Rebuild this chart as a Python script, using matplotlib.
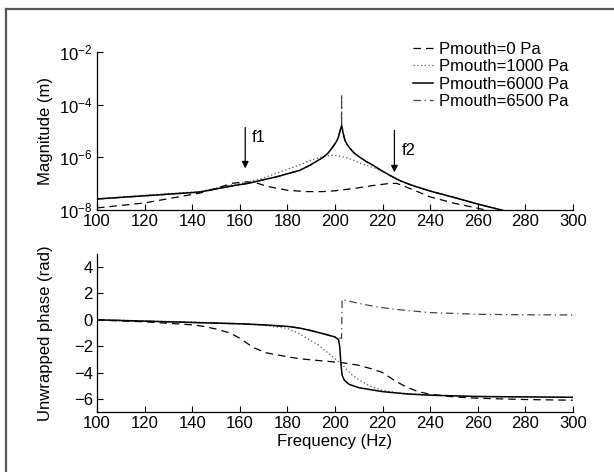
import matplotlib
matplotlib.use('Agg')
from matplotlib import pyplot as plt
from matplotlib.lines import Line2D
import numpy as np

plt.rcParams['font.family'] = ['Liberation Sans', 'DejaVu Sans']
plt.rcParams['mathtext.fontset'] = 'custom'
plt.rcParams['mathtext.rm'] = 'Liberation Sans'
plt.rcParams['font.size'] = 12

labels = ["Pmouth=0 Pa", "Pmouth=1000 Pa", "Pmouth=6000 Pa", "Pmouth=6500 Pa"]

# magnitude, log10(m)
f_mag0 = [100, 120, 143, 150, 157, 163, 167, 171.4, 180, 188, 195, 200, 209, 216, 223, 226, 232, 240,
          250, 260, 270, 280, 300]
mag0 = [-7.92, -7.73, -7.36, -7.18, -6.98, -6.93, -6.97, -7.1, -7.25, -7.3, -7.3, -7.27, -7.17, -7.07,
        -6.99, -6.99, -7.2, -7.5, -7.74, -7.93, -8.15, -8.4, -8.8]

f_mag1 = [100, 120, 143, 157, 164, 170, 175, 181, 185, 189.5, 195, 199, 202, 206, 210.5, 213, 216, 220,
          223, 227, 232, 240, 250, 260, 270, 280, 300]
mag1 = [-7.58, -7.44, -7.3, -7.04, -6.92, -6.78, -6.62, -6.42, -6.3, -6.12, -5.97, -5.92, -5.95, -6.04,
        -6.22, -6.3, -6.38, -6.52, -6.68, -6.87, -7.05, -7.28, -7.52, -7.77, -8.0, -8.25, -8.7]

f_mag2 = [100, 120, 143, 150, 157, 164, 170, 175, 181, 185, 189.5, 195, 197, 199, 200.5, 201.3, 202,
          202.8, 203.5, 204.2, 205.2, 206.3, 208, 210.5, 213, 216, 219.5, 223, 227, 232, 240, 250, 260,
          270, 280, 300]
mag2 = [-7.58, -7.46, -7.32, -7.2, -7.08, -6.98, -6.85, -6.75, -6.6, -6.5, -6.3, -6.0, -5.85, -5.62,
        -5.42, -5.28, -5.05, -4.79, -5.1, -5.36, -5.52, -5.66, -5.83, -6.0, -6.15, -6.3, -6.5, -6.68,
        -6.87, -7.05, -7.28, -7.52, -7.77, -8.0, -8.25, -8.7]

f_mag3 = [100, 120, 143, 150, 157, 164, 170, 175, 181, 185, 189.5, 195, 197, 199, 200.5, 201.3, 202,
          202.75, 202.8, 202.85, 203.5, 204.2, 205.2, 206.3, 208, 210.5, 213, 216, 219.5, 223, 227, 232,
          240, 250, 260, 270, 280, 300]
mag3 = [-7.58, -7.46, -7.32, -7.2, -7.08, -6.98, -6.85, -6.75, -6.6, -6.5, -6.3, -6.0, -5.85, -5.62,
        -5.42, -5.28, -5.05, -4.8, -3.6, -4.8, -5.1, -5.36, -5.52, -5.66, -5.83, -6.0, -6.15, -6.3, -6.5,
        -6.68, -6.87, -7.05, -7.28, -7.52, -7.77, -8.0, -8.25, -8.7]

# unwrapped phase, rad
f_ph0 = [100, 120, 140, 145, 150, 156, 160, 165.7, 171, 180, 185, 193.7, 203, 210, 215, 220, 225, 230,
         235, 240, 250, 260, 280, 300]
ph0 = [-0.02, -0.15, -0.38, -0.5, -0.7, -1.0, -1.4, -2.1, -2.5, -2.8, -2.95, -3.1, -3.25, -3.45, -3.7,
       -4.0, -4.6, -5.1, -5.45, -5.65, -5.85, -5.95, -6.05, -6.1]

f_ph1 = [100, 120, 140, 160, 170, 180, 185, 190, 193, 198, 203, 207, 211, 215, 220, 225, 230, 240,
         260, 300]
ph1 = [0.0, -0.08, -0.18, -0.3, -0.42, -0.65, -1.05, -1.6, -1.9, -2.65, -3.4, -4.15, -4.65, -5.05,
       -5.35, -5.5, -5.6, -5.72, -5.82, -5.88]

f_ph2 = [100, 120, 140, 160, 170, 180, 185, 190, 195, 200, 201.5, 202, 202.5, 203, 204, 206, 210, 220,
         230, 240, 260, 300]
ph2 = [0.0, -0.1, -0.2, -0.3, -0.38, -0.5, -0.62, -0.82, -1.05, -1.3, -1.5, -2.0, -3.3, -4.2, -4.6,
       -4.9, -5.15, -5.45, -5.62, -5.72, -5.82, -5.88]

f_ph3 = [100, 120, 140, 160, 170, 180, 185, 190, 195, 200, 202.8, 203, 204, 210, 217, 225, 240, 260,
         280, 300]
ph3 = [0.0, -0.1, -0.2, -0.3, -0.38, -0.5, -0.62, -0.82, -1.05, -1.3, -1.4, 1.55, 1.5, 1.25, 1.0, 0.8,
       0.55, 0.42, 0.38, 0.37]

styles = [dict(color='black', ls=(0, (6, 4)), lw=0.9),
          dict(color='#555555', ls=(0, (1, 2)), lw=0.9),
          dict(color='black', ls='-', lw=1.1),
          dict(color='#444444', ls=(0, (6, 3, 1, 3)), lw=0.9)]

fig = plt.figure(figsize=(6.14, 4.72), dpi=100)
ax1 = fig.add_axes([0.158, 0.555, 0.775, 0.335])
ax2 = fig.add_axes([0.158, 0.127, 0.775, 0.335])

mags = [(f_mag0, mag0), (f_mag1, mag1), (f_mag2, mag2), (f_mag3, mag3)]
phs = [(f_ph0, ph0), (f_ph1, ph1), (f_ph2, ph2), (f_ph3, ph3)]
# draw 6500 first so 6000 sits on top of it
for i in [3, 0, 1, 2]:
    f, m = mags[i]
    ax1.plot(f, 10.0 ** np.array(m), label=labels[i], **styles[i])
    f, p = phs[i]
    ax2.plot(f, p, **styles[i])

ax1.set_yscale('log')
ax1.set_ylim(1e-8, 1e-2)
ax1.set_yticks([1e-8, 1e-6, 1e-4, 1e-2])
ax1.minorticks_off()
ax1.set_ylabel("Magnitude (m)")

ax2.set_ylim(-7, 5)
ax2.set_yticks([-6, -4, -2, 0, 2, 4])
ax2.set_ylabel("Unwrapped phase (rad)")
ax2.set_xlabel("Frequency (Hz)", labelpad=2)

for ax in (ax1, ax2):
    ax.set_xlim(100, 300)
    ax.set_xticks(np.arange(100, 301, 20))
    ax.spines['top'].set_visible(False)
    ax.spines['right'].set_visible(False)
    ax.tick_params(direction='in', length=4, width=0.8, pad=3)
    ax.spines['left'].set_linewidth(0.9)
    ax.spines['bottom'].set_linewidth(0.9)

ax1.yaxis.set_label_coords(-0.092, 0.5)
ax2.yaxis.set_label_coords(-0.092, 0.5)

arrow = dict(arrowstyle='-|>', color='black', lw=0.9, mutation_scale=10, shrinkA=0, shrinkB=0)
ax1.annotate('', xy=(162.3, 10 ** -6.42), xytext=(162.3, 10 ** -4.87), arrowprops=arrow)
ax1.text(165, 10 ** -5.25, 'f1', va='center', ha='left')
ax1.annotate('', xy=(225, 10 ** -6.57), xytext=(225, 10 ** -4.98), arrowprops=arrow)
ax1.text(228, 10 ** -5.74, 'f2', va='center', ha='left')

handles, labs = ax1.get_legend_handles_labels()
order = [labs.index(l) for l in labels]
ax1.legend([handles[k] for k in order], labels, loc='upper left', bbox_to_anchor=(0.665, 1.065),
           frameon=False, handlelength=1.15, handletextpad=0.4, labelspacing=0.15, borderpad=0,
           borderaxespad=0)

# partial grey frame of the original figure
fig.add_artist(Line2D([6 / 614, 6 / 614], [0, 1 - 8.5 / 472], transform=fig.transFigure,
                      color='#555555', lw=1.6))
fig.add_artist(Line2D([6 / 614, 1], [1 - 8.5 / 472, 1 - 8.5 / 472], transform=fig.transFigure,
                      color='#555555', lw=1.6))

fig.savefig('out.png', dpi=100)
